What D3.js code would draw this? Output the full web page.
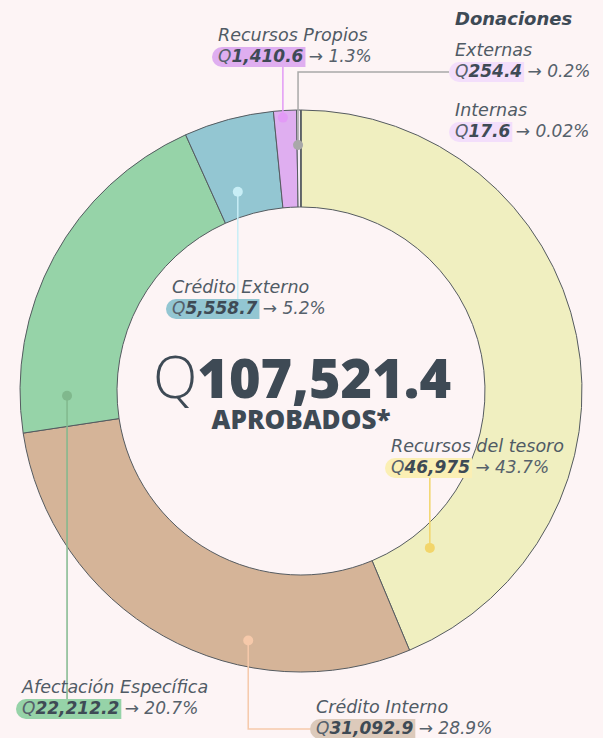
<!DOCTYPE html>
<html>
<head>
<meta charset="utf-8">
<script src="https://cdn.jsdelivr.net/npm/d3@7"></script>
<style>
  body { margin: 0; background: #fdf4f5; }
  svg { display: block; }
  text { font-family: "DejaVu Sans", sans-serif; fill: #46525c; }
</style>
</head>
<body>
<svg width="603" height="738"></svg>
<script>
// datos (millones de quetzales)
const categories = ["Recursos del tesoro", "Crédito Interno", "Afectación Específica",
  "Crédito Externo", "Recursos Propios", "Externas", "Internas"];
const values = [46975, 31092.9, 22212.2, 5558.7, 1410.6, 254.4, 17.6];
const valueLabels = ["46,975", "31,092.9", "22,212.2", "5,558.7", "1,410.6", "254.4", "17.6"];
const pctLabels = ["43.7%", "28.9%", "20.7%", "5.2%", "1.3%", "0.2%", "0.02%"];
const totalLabel = "107,521.4";

const sliceColors = ["#f0efc0", "#d5b498", "#96d3a8", "#93c6d2", "#dfaef0", "#f4eaf5", "#f4eaf5"];
const pillColors = ["#fbefb4", "#dccabb", "#96d3a8", "#93c6d2", "#dfaef0", "#f3defb", "#f3defb"];
const dotColors = ["#f2d56a", "#f6c9aa", "#80b88d", "#c8eef6", "#e29af6", "#a8a8a8", null];

// layout de etiquetas: posicion del titulo, punto del guia (fraccion del arco, radio), tipo de guia
const labelLayout = [
  {x: 391, y: 452, t: 0.894, r: 203, leader: "up"},
  {x: 316, y: 713, t: 0.333, r: 255, leader: "downRight"},
  {x: 22, y: 693, t: 0.10, r: 234, leader: "down"},
  {x: 172, y: 293, t: 0.357, r: 209, leader: "down"},
  {x: 218, y: 41, t: 0.39, r: 274, leader: "up"},
  {x: 455, y: 56, t: 0.26, r: 246, leader: "upRight"},
  {x: 455, y: 116, t: 0.5, r: 246, leader: null}
];

const svg = d3.select("svg");
svg.append("rect").attr("width", 603).attr("height", 738).attr("fill", "#fdf4f5");

const cx = 301, cy = 391, outerR = 281, innerR = 184;
const data = categories.map((c, i) => ({name: c, value: values[i], i: i}));

const pie = d3.pie().value(d => d.value).sort(null);
const arc = d3.arc().innerRadius(innerR).outerRadius(outerR);
const arcs = pie(data);

const g = svg.append("g").attr("transform", `translate(${cx}, ${cy})`);
g.selectAll("path.slice")
  .data(arcs)
  .join("path")
  .attr("class", "slice")
  .attr("d", arc)
  .attr("fill", d => sliceColors[d.index])
  .attr("stroke", "#555b60")
  .attr("stroke-width", 1);

// centro
const center = svg.append("text")
  .attr("x", cx + 1).attr("y", 398)
  .attr("text-anchor", "middle")
  .style("font-family", "'Open Sans', sans-serif")
  .style("fill", "#3e4a55");
center.append("tspan").text("Q").style("font-weight", 300).style("font-size", "58px");
center.append("tspan").text(totalLabel).style("font-weight", 800).style("font-size", "54px");
svg.append("text")
  .attr("x", cx).attr("y", 429)
  .attr("text-anchor", "middle")
  .style("font-family", "'Open Sans', sans-serif")
  .style("font-weight", 800).style("font-size", "26px")
  .style("fill", "#3e4a55")
  .text("APROBADOS*");

// titulo donaciones
svg.append("text")
  .attr("x", 455).attr("y", 25)
  .style("font-style", "italic").style("font-weight", 700).style("font-size", "18px")
  .style("fill", "#3e4a55")
  .text("Donaciones");

// punto del guia sobre el arco
function dotPos(a, lay) {
  const ang = a.startAngle + (a.endAngle - a.startAngle) * lay.t;
  return [cx + lay.r * Math.sin(ang), cy - lay.r * Math.cos(ang)];
}

const leaderG = svg.append("g");
const labelG = svg.append("g");

arcs.forEach(a => {
  const i = a.index;
  const lay = labelLayout[i];
  const lg = labelG.append("g");

  lg.append("text")
    .attr("x", lay.x).attr("y", lay.y)
    .style("font-style", "italic").style("font-size", "17.5px")
    .style("fill", "#505b65")
    .text(categories[i]);

  const vy = lay.y + 21;
  const pill = lg.append("path").attr("fill", pillColors[i]);
  const vt = lg.append("text")
    .attr("x", lay.x).attr("y", vy)
    .style("font-style", "italic").style("font-size", "17px")
    .style("fill", "#56616b");
  const q = vt.append("tspan").text("Q").style("font-weight", 300);
  const num = vt.append("tspan").text(valueLabels[i]).style("font-weight", 700).style("fill", "#3e4a55");
  vt.append("tspan").text(" \u2192 " + pctLabels[i]);

  const w = q.node().getComputedTextLength() + num.node().getComputedTextLength();
  const px0 = lay.x - 6, px1 = lay.x + w + 2, py0 = vy - 15, py1 = vy + 5, rr = 10;
  pill.attr("d", `M${px0 + rr},${py0} H${px1} V${py1} H${px0 + rr} A${rr},${rr} 0 0 1 ${px0 + rr},${py0} Z`);

  if (!lay.leader) return;
  const [dx, dy] = dotPos(a, lay);
  let pts;
  if (lay.leader === "up") pts = [[dx, dy], [dx, py1]];
  else if (lay.leader === "down") pts = [[dx, dy], [dx, py0]];
  else pts = [[dx, dy], [dx, (py0 + py1) / 2], [px0, (py0 + py1) / 2]];

  leaderG.append("path")
    .attr("d", d3.line()(pts))
    .attr("fill", "none")
    .attr("stroke", dotColors[i])
    .attr("stroke-width", 1.5);
  leaderG.append("circle")
    .attr("cx", dx).attr("cy", dy).attr("r", 5)
    .attr("fill", dotColors[i]);
});
</script>
</body>
</html>
